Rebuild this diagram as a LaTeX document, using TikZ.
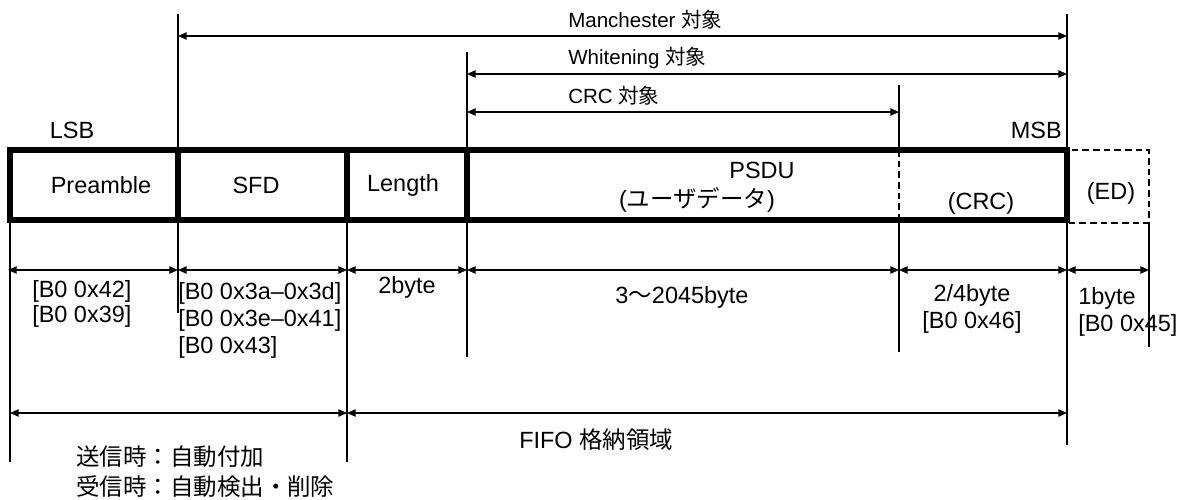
\documentclass[tikz,border=0pt]{standalone}
\usepackage{fontspec}
\setmainfont{Liberation Sans}
\newfontfamily\jp{Noto Sans CJK JP}
\usetikzlibrary{arrows.meta}
\begin{document}
\begin{tikzpicture}[x=0.75pt,y=-0.75pt,
  thinln/.style={line width=1.1pt},
  framer/.style={line width=3.8pt},
  dashln/.style={line width=1.1pt,dash pattern=on 5pt off 3pt},
  dim/.style={thinln,{Triangle[length=6.5pt,width=5.5pt]}-{Triangle[length=6.5pt,width=5.5pt]}},
  lbl/.style={font=\fontsize{17.6}{20}\selectfont,inner sep=0pt},
  toplbl/.style={font=\fontsize{15.4}{18}\selectfont,inner sep=0pt,anchor=west}]
\useasboundingbox (0,0) rectangle (1186,500);
% tick coordinates
\coordinate (mT) at (178,14);   \coordinate (mB) at (178,148);
\coordinate (rT) at (1067,14);  \coordinate (rB) at (1067,148);
\coordinate (wT) at (467,52);   \coordinate (wB) at (467,148);
\coordinate (cT) at (899,85);   \coordinate (cB) at (899,148);
\draw[thinln] (mT) -- (mB);
\draw[thinln] (rT) -- (rB);
\draw[thinln] (wT) -- (wB);
\draw[thinln] (cT) -- (cB);
% scope arrows
\coordinate (ma) at (178,36);  \coordinate (mb) at (1067,36);
\coordinate (wa) at (467,74);  \coordinate (wb) at (1067,74);
\coordinate (ca) at (467,112); \coordinate (cb) at (899,112);
\draw[dim] (ma) -- (mb);
\draw[dim] (wa) -- (wb);
\draw[dim] (ca) -- (cb);
\node[toplbl] (tm) at (568,20) {Manchester {\jp 対象}};
\node[toplbl] (tw) at (568,58) {Whitening {\jp 対象}};
\node[toplbl] (tc) at (568,96) {CRC {\jp 対象}};
\node[lbl] (lsb) at (72,130) {LSB};
\node[lbl,anchor=east] (msb) at (1062,130) {MSB};
% frame
\draw[dashln] (1067,150) rectangle (1149,223);
\draw[dashln] (899,150) -- (899,220);
\draw[framer] (10,150) rectangle (1067,220);
\draw[framer] (178,150) -- (178,220);
\draw[framer] (347,150) -- (347,220);
\draw[framer] (467,150) -- (467,220);
\node[lbl] (pre) at (101,185) {Preamble};
\node[lbl] (sfd) at (256,185) {SFD};
\node[lbl] (len) at (403,185) {Length};
\node[lbl] (psdu) at (762,170) {PSDU};
\node[lbl] (user) at (697,200) {({\jp ユーザデータ})};
\node[lbl] (crc) at (981,203) {(CRC)};
\node[lbl] (ed) at (1111,193) {(ED)};
% lower ticks
\coordinate (x0t) at (10,220);   \coordinate (x0b) at (10,462);
\coordinate (x1t) at (178,220);  \coordinate (x1b) at (178,313);
\coordinate (x2t) at (347,220);  \coordinate (x2b) at (347,462);
\coordinate (x3t) at (467,220);  \coordinate (x3b) at (467,357);
\coordinate (x4t) at (899,220);  \coordinate (x4b) at (899,352);
\coordinate (x5t) at (1067,220); \coordinate (x5b) at (1067,445);
\coordinate (x6t) at (1149,223); \coordinate (x6b) at (1149,347);
\foreach \i in {0,...,6} {\draw[thinln] (x\i t) -- (x\i b);}
% size arrows
\coordinate (d0) at (8,270);   \coordinate (d1) at (178,270);
\coordinate (d2) at (347,270); \coordinate (d3) at (467,270);
\coordinate (d4) at (899,270); \coordinate (d5) at (1067,270);
\coordinate (d6) at (1149,270);
\draw[dim] (d0) -- (d1);
\draw[dim] (d1) -- (d2);
\draw[dim] (d2) -- (d3);
\draw[dim] (d3) -- (d4);
\draw[dim] (d4) -- (d5);
\draw[dim] (d5) -- (d6);
\coordinate (f0) at (10,413); \coordinate (f1) at (347,413); \coordinate (f2) at (1067,413);
\draw[dim] (f0) -- (f1);
\draw[dim] (f1) -- (f2);
% size labels
\node[lbl,anchor=west] (a1) at (32,291) {[B0 0x42]};
\node[lbl,anchor=west] (a2) at (32,316) {[B0 0x39]};
\node[lbl,anchor=west] (b1) at (178,293) {[B0 0x3a–0x3d]};
\node[lbl,anchor=west] (b2) at (178,320) {[B0 0x3e–0x41]};
\node[lbl,anchor=west] (b3) at (178,347) {[B0 0x43]};
\node[lbl,anchor=west] (c1) at (378,287) {2byte};
\node[lbl] (e1) at (682,297) {3{\jp ～}2045byte};
\node[lbl] (g1) at (972,295) {2/4byte};
\node[lbl] (g2) at (972,322) {[B0 0x46]};
\node[lbl,anchor=west] (h1) at (1078,298) {1byte};
\node[lbl,anchor=west] (h2) at (1078,325) {[B0 0x45]};
\node[lbl,anchor=west] (fifo) at (519,440) {FIFO {\jp 格納領域}};
\node[lbl,anchor=west] (tx) at (76,457) {\jp 送信時：自動付加};
\node[lbl,anchor=west] (rx) at (76,487) {\jp 受信時：自動検出・削除};
\end{tikzpicture}
\end{document}
